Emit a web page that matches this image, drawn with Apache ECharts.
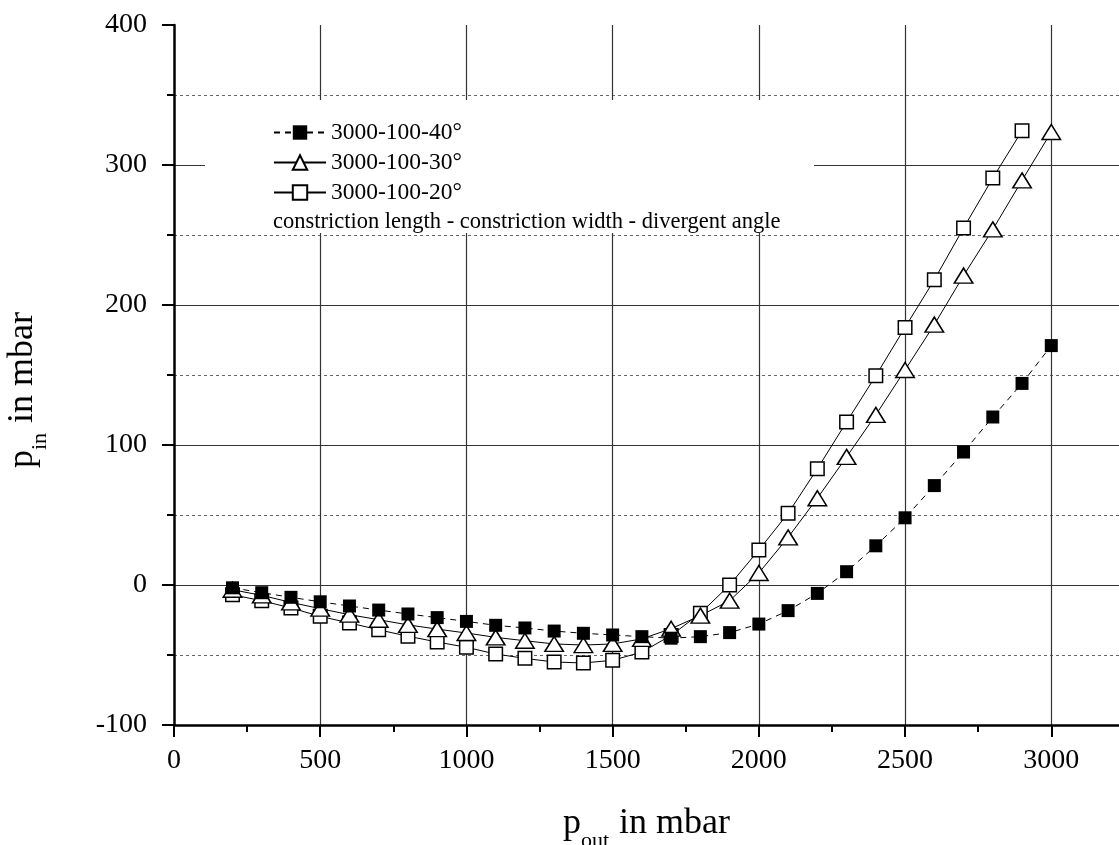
<!DOCTYPE html>
<html>
<head>
<meta charset="utf-8">
<script src="https://cdn.jsdelivr.net/npm/echarts@6/dist/echarts.min.js"></script>
<style>
html, body { margin: 0; padding: 0; background: #fff; }
#chart { width: 1119px; height: 845px; }
</style>
</head>
<body>
<div id="chart"></div>
<script>
// p_out in mbar
var aPout = [200, 300, 400, 500, 600, 700, 800, 900, 1000, 1100, 1200, 1300, 1400, 1500, 1600,
    1700, 1800, 1900, 2000, 2100, 2200, 2300, 2400, 2500, 2600, 2700, 2800, 2900, 3000];

// p_in in mbar
var aPin40 = [-2, -5.5, -8.8, -12, -15, -17.9, -20.7, -23.3, -26, -28.8, -30.7, -32.9, -34.5, -35.7, -36.9,
    -38, -36.9, -34, -27.9, -18.3, -6, 9.5, 28, 48, 71, 95, 120, 144, 171];
var aPin30 = [-3.4, -7.4, -12.4, -16.9, -21.2, -24.8, -28.5, -31.5, -34.3, -37.4, -39.8, -42.1, -42.9, -42.1, -38.5,
    -31.2, -21.9, -11.2, 8.6, 34, 62, 91.5, 121.5, 153.6, 186, 221, 254, 289, 323.6];
var aPin20 = [-7, -11.2, -16.4, -22.4, -27.1, -32, -36.6, -40.7, -44.5, -49.3, -52.4, -55, -55.7, -53.8, -47.9,
    -36, -20.2, 0, 25, 51.2, 83, 116.5, 149.5, 184, 218, 255, 290.7, 324.5];

var acNames = ['3000-100-40°', '3000-100-30°', '3000-100-20°'];
var cNote = 'constriction length - constriction width - divergent angle';

var cFont = '"Liberation Serif", "Times New Roman", serif';

function toPairs(aY) {
    var aoRes = [];
    for (var i = 0; i < aY.length; i++) {
        aoRes.push([aPout[i], aY[i]]);
    }
    return aoRes;
}

// one piece of text, y given as its baseline
function textPart(cText, nSize, nX, nBase) {
    return {
        type: 'text', silent: true, x: nX, y: nBase - 0.3 * nSize,
        style: { legacy: false, text: cText, font: nSize + 'px ' + cFont, fill: '#000', align: 'left', verticalAlign: 'middle' }
    };
}

// "p<sub> in mbar", origin at start of the baseline
function axisTitle(cSub, nSubW, nX, nY, nRot) {
    return {
        type: 'group', silent: true, z: 6, x: nX, y: nY, rotation: nRot,
        children: [
            textPart('p', 36, 0, 0),
            textPart(cSub, 22, 18, 14),
            textPart('in mbar', 36, 18 + nSubW + 10, 0)
        ]
    };
}

var oChart = echarts.init(document.getElementById('chart'));

var oAxisLine = { show: true, onZero: false, lineStyle: { color: '#000', width: 2.5 } };
var oTick = { show: true, length: 12, lineStyle: { color: '#000', width: 2 } };
var oMinorTick = { show: true, splitNumber: 2, length: 7, lineStyle: { color: '#000', width: 2 } };
var oLabel = {
    fontFamily: cFont, fontSize: 28, color: '#000',
    formatter: function (v) { return String(v); }
};

var oOpt = {
    animation: false,
    backgroundColor: '#fff',
    grid: { left: 174, top: 25, right: -78.5, bottom: 120, outerBoundsMode: 'none', containLabel: false },
    legend: {
        data: acNames,
        orient: 'vertical',
        left: 273,
        top: 120.5,
        padding: 0,
        itemWidth: 52,
        itemHeight: 18,
        itemGap: 6,
        selectedMode: false,
        z: 10,
        textStyle: { fontFamily: cFont, fontSize: 23.5, color: '#000' }
    },
    xAxis: {
        type: 'value',
        min: 0,
        max: 3500,
        interval: 500,
        axisLine: oAxisLine,
        axisTick: oTick,
        minorTick: oMinorTick,
        axisLabel: Object.assign({ margin: 22 }, oLabel),
        splitLine: { show: true, showMinLine: false, lineStyle: { color: '#333', width: 1.2 } }
    },
    yAxis: {
        type: 'value',
        min: -100,
        max: 400,
        interval: 100,
        axisLine: oAxisLine,
        axisTick: oTick,
        minorTick: oMinorTick,
        axisLabel: Object.assign({ margin: 27 }, oLabel),
        splitLine: { show: true, showMinLine: false, showMaxLine: false, lineStyle: { color: '#333', width: 1.2 } },
        minorSplitLine: { show: true, lineStyle: { color: '#666', width: 1, type: [3, 3] } }
    },
    graphic: [
        // white box behind the legend
        { type: 'rect', silent: true, z: 5, shape: { x: 205, y: 100, width: 609, height: 133 }, style: { fill: '#fff' } },
        {
            type: 'text', silent: true, z: 6, x: 273, y: 222,
            style: { legacy: false, text: cNote, font: '22.5px ' + cFont, fill: '#000', align: 'left', verticalAlign: 'middle' }
        },
        axisTitle('out', 28, 563, 834, 0),
        axisTitle('in', 17, 33, 468, Math.PI / 2)
    ],
    series: [
        {
            name: acNames[2], type: 'line', data: toPairs(aPin20),
            symbol: 'rect', symbolSize: 13.5,
            itemStyle: { color: '#fff', borderColor: '#000', borderWidth: 1.5 },
            lineStyle: { color: '#000', width: 1 },
            emphasis: { disabled: true }
        },
        {
            name: acNames[1], type: 'line', data: toPairs(aPin30),
            symbol: 'triangle', symbolSize: [18.5, 15],
            itemStyle: { color: '#fff', borderColor: '#000', borderWidth: 1.5 },
            lineStyle: { color: '#000', width: 1 },
            emphasis: { disabled: true }
        },
        {
            name: acNames[0], type: 'line', data: toPairs(aPin40),
            symbol: 'rect', symbolSize: 13,
            itemStyle: { color: '#000', borderColor: '#000', borderWidth: 0 },
            lineStyle: { color: '#000', width: 1, type: [6, 5] },
            emphasis: { disabled: true }
        }
    ]
};

oChart.setOption(oOpt);
</script>
</body>
</html>
